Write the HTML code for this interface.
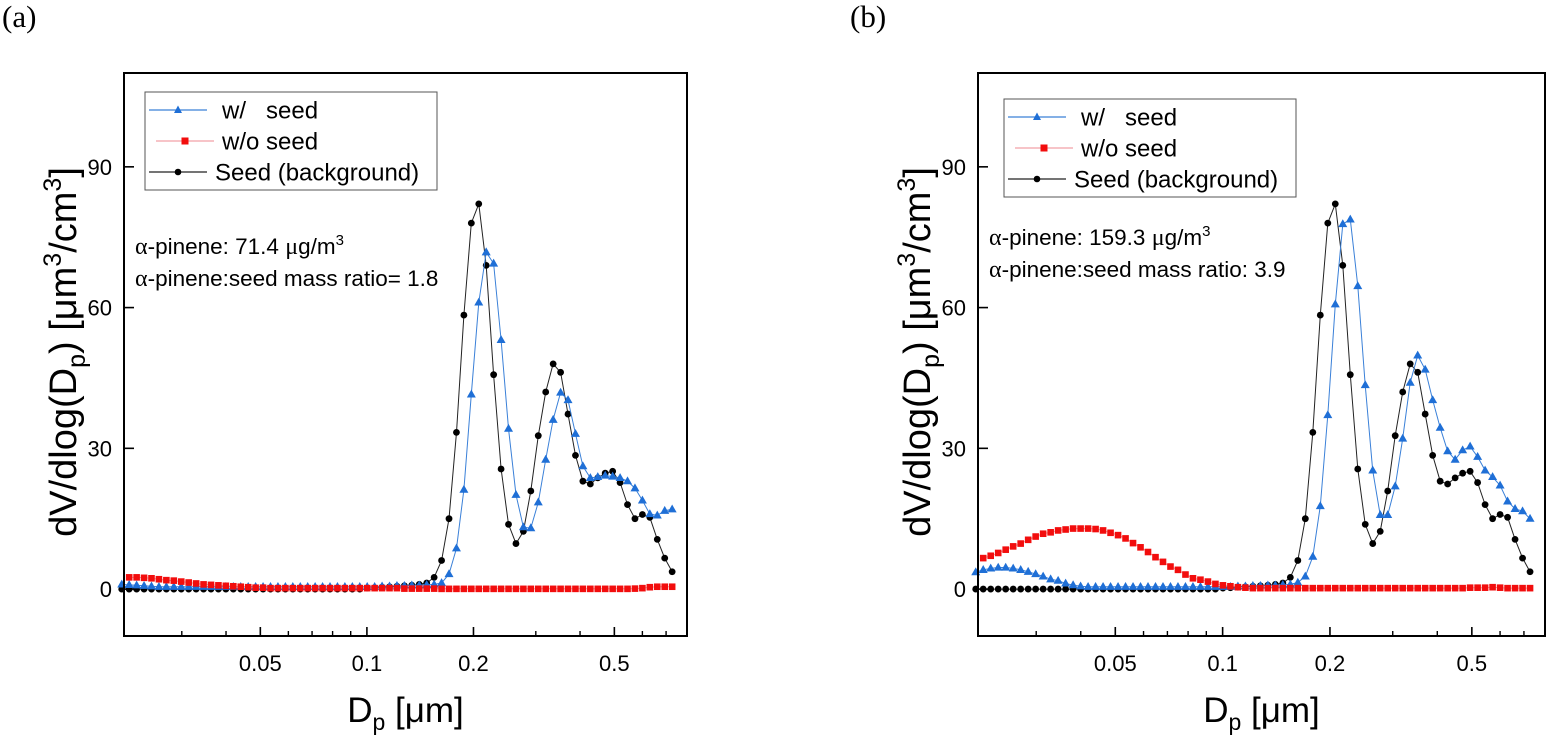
<!DOCTYPE html>
<html><head><meta charset="utf-8">
<style>
html,body{margin:0;padding:0;background:#fff;}
svg{display:block;font-family:"Liberation Sans",sans-serif;}
</style></head>
<body>
<svg id="chart" width="1548" height="737" viewBox="0 0 1548 737" xmlns="http://www.w3.org/2000/svg">
<text x="2" y="27" font-family="Liberation Serif" font-size="31">(a)</text>
<text x="850" y="27" font-family="Liberation Serif" font-size="31">(b)</text>
</svg>
<script>
// ---- data ----
const nPoints = 75;
const dStart = 0.0203;           // first diameter (um)
const logStep = 0.02101;         // log10 spacing between size bins
const xTicksMajor = [0.05, 0.1, 0.2, 0.5];
const xTickLabels = ["0.05", "0.1", "0.2", "0.5"];
const xTicksMinor = [0.03,0.04,0.06,0.07,0.08,0.09,0.3,0.4,0.6,0.7];
const yTicks = [0, 30, 60, 90];
const yTickLabels = ["0", "30", "60", "90"];

const seedA = [0,0,0,0,0,0,0,0,0,0, 0,0,0,0,0,0,0,0,0,0, 0,0,0,0,0,0,0,0,0,0, 0,0,0,0.2,0.3,0.4,0.5,0.6,0.7,0.8, 1.0,1.3,2.5,6.1,15,33.4,58.4,78,82.1,69,
 45.7,25.6,13.8,9.7,12.3,20.9,32.7,42,48,46.2, 37.3,28.5,23,22.4,23.7,24.7,25.1,22.7,18,15, 15.9,15.3,10.6,6.6,3.7];
const withSeedA = [1.0,0.9,0.8,0.7,0.6,0.5,0.5,0.5,0.5,0.5, 0.5,0.5,0.5,0.5,0.5,0.5,0.5,0.5,0.5,0.5, 0.5,0.5,0.5,0.5,0.5,0.5,0.5,0.5,0.5,0.5, 0.5,0.5,0.5,0.5,0.5,0.6,0.6,0.7,0.7,0.8, 0.8,0.9,1.0,1.3,3.2,8.7,21.2,41.5,61.1,71.8,
 69.4,53.1,34.2,20.1,13.2,13,18.5,27.6,36.1,41.9, 40.3,33.1,26.2,23.7,23.9,24.2,24,23.7,23,21.5, 18.9,16,15.7,16.7,17];
const noSeedA = [null,2.5,2.5,2.4,2.3,2.1,1.9,1.8,1.6,1.4, 1.2,1.0,0.9,0.8,0.7,0.6,0.5,0.4,0.3,0.3, 0.2,0.2,0.2,0.2,0.2,0.2,0.2,0.2,0.2,0.2, 0.2,0.2,0.2,0.2,0.2,0.2,0.2,0.2,0.1,0.1, 0.1,0.1,0.1,0.05,0.05,0.05,0.05,0.05,0.05,0.05,
 0.05,0.05,0.05,0.05,0.05,0.05,0.05,0.05,0.05,0.05, 0.05,0.05,0.05,0.05,0.05,0.05,0.05,0.05,0.05,0.1, 0.2,0.4,0.5,0.5,0.5];

const seedB = seedA.slice();
const withSeedB = [3.6,4.1,4.4,4.6,4.6,4.4,4.1,3.7,3.2,2.7, 2.1,1.8,1.2,0.85,0.6,0.5,0.5,0.5,0.5,0.5, 0.5,0.5,0.5,0.5,0.5,0.5,0.5,0.5,0.5,0.5, 0.5,0.5,0.5,0.5,0.5,0.6,0.6,0.7,0.7,0.8, 0.8,0.9,1.0,1.4,2.7,6.9,17.7,37.1,60.7,77.8,
 78.8,64.6,43.5,25.3,15.8,15.8,21.9,32.1,44,49.8, 46.8,40.3,34.4,29.4,27.6,29.6,30.4,28.2,25.3,23.9, 22.1,18.7,17.1,16.6,15];
const noSeedB = [null,6.6,7.1,7.7,8.4,9.1,9.7,10.5,11.2,11.8, 12.1,12.5,12.7,12.9,12.9,12.9,12.8,12.5,12,11.5, 10.8,9.8,8.9,7.9,6.8,5.8,4.8,4.1,3.1,2.3, 2.0,1.6,1.1,0.8,0.6,0.4,0.3,0.2,0.2,0.2, 0.2,0.2,0.2,0.2,0.2,0.2,0.2,0.2,0.2,0.2,
 0.2,0.2,0.2,0.2,0.2,0.2,0.2,0.2,0.2,0.2, 0.2,0.2,0.2,0.2,0.2,0.2,0.3,0.3,0.3,0.4, 0.3,0.2,0.2,0.2,0.2];

const NS = "http://www.w3.org/2000/svg";
const svg = document.getElementById("chart");
const diam = [];
for (let i = 0; i < nPoints; i++) diam.push(dStart * Math.pow(10, i * logStep));

function mk(tag, attrs, parent) {
  const e = document.createElementNS(NS, tag);
  for (const k in attrs) e.setAttribute(k, attrs[k]);
  (parent || svg).appendChild(e);
  return e;
}

function panel(cfg) {
  const g = mk("g", {});
  
  
  const L = cfg.left, R = cfg.right, T = 73, B = 636;
  const xMin = Math.log10(0.0206), xMax = Math.log10(0.802);
  const yMin = -10, yMax = 110;
  const xs = d => L + (Math.log10(d) - xMin) / (xMax - xMin) * (R - L);
  const ys = v => B - (v - yMin) / (yMax - yMin) * (B - T);

  const series = [
    {vals: cfg.noSeed, color: "#f20d0d", line: "#f4a0a0", mark: "square", nm: "wo-seed"},
    {vals: cfg.withSeed, color: "#1f6fd6", line: "#3a80d8", mark: "tri", nm: "w-seed"},
    {vals: cfg.seed, color: "#000", line: "#222", mark: "circle", nm: "seed-background"}
  ];
  const order = [2, 1, 0];
  order.forEach(si => {
    const s = series[si];
    const sg = mk("g", {}, g);
    
    
    let d = "";
    s.vals.forEach((v, i) => { if (v === null) return; d += (d ? "L" : "M") + xs(diam[i]).toFixed(1) + "," + ys(v).toFixed(1); });
    const p = mk("path", {d: d, fill: "none", stroke: s.line, "stroke-width": 1}, sg);
    
    
    s.vals.forEach((v, i) => {
      if (v === null) return;
      const x = xs(diam[i]), y = ys(v);
      let m;
      if (s.mark === "square") m = mk("rect", {x: x - 3.3, y: y - 3.3, width: 6.6, height: 6.6, fill: s.color}, sg);
      else if (s.mark === "tri") m = mk("polygon", {points: `${x},${y-4.8} ${x-4.5},${y+3.1} ${x+4.5},${y+3.1}`, fill: s.color}, sg);
      else m = mk("circle", {cx: x, cy: y, r: 3.4, fill: s.color}, sg);
      
      
    });
  });

  const fr = mk("rect", {x: L, y: T, width: R - L, height: B - T, fill: "none", stroke: "#000", "stroke-width": 2}, g);
  
  

  xTicksMajor.forEach((t, i) => {
    const x = xs(t);
    const tk = mk("line", {x1: x, x2: x, y1: B, y2: B - 9, stroke: "#000", "stroke-width": 1.6}, g);
    
    
    const tl = mk("text", {x: x, y: 671, "font-size": 22, "text-anchor": "middle"}, g);
    tl.textContent = xTickLabels[i];
    
    
  });
  xTicksMinor.forEach(t => {
    const x = xs(t);
    const tk = mk("line", {x1: x, x2: x, y1: B, y2: B - 5, stroke: "#000", "stroke-width": 1.4}, g);
    
    
  });
  yTicks.forEach((t, i) => {
    const y = ys(t);
    const tk = mk("line", {x1: L, x2: L + 10, y1: y, y2: y, stroke: "#000", "stroke-width": 1.6}, g);
    
    
    const tl = mk("text", {x: L - 12, y: y + 8, "font-size": 22, "text-anchor": "end"}, g);
    tl.textContent = yTickLabels[i];
    
    
  });

  const xt = mk("text", {x: (L + R) / 2, y: 722, "font-size": 35, "text-anchor": "middle"}, g);
  xt.innerHTML = 'D<tspan font-size="23" dy="8">p</tspan><tspan dy="-8"> [μm]</tspan>';
  
  
  const yt = mk("text", {x: 0, y: 0, "font-size": 38, "text-anchor": "middle", transform: `translate(${L - 48},352) rotate(-90)`}, g);
  yt.innerHTML = 'dV/dlog(D<tspan font-size="25" dy="9">p</tspan><tspan dy="-9">) [μm</tspan><tspan font-size="25" dy="-15">3</tspan><tspan dy="15">/cm</tspan><tspan font-size="25" dy="-15">3</tspan><tspan dy="15">]</tspan>';
  
  

  const lg = mk("g", {}, g);
  
  
  const lb = mk("rect", {x: cfg.lx, y: cfg.ly, width: 292, height: 98, fill: "#fff", stroke: "#555", "stroke-width": 1}, lg);
  
  
  const entries = [
    {t: "w/\u00a0\u00a0\u00a0seed", s: series[1], dx: 77},
    {t: "w/o seed", s: series[0], dx: 77},
    {t: "Seed (background)", s: series[2], dx: 70}
  ];
  entries.forEach((e, k) => {
    const y = cfg.ly + 18 + k * 31;
    const x0 = cfg.lx + 4, x1 = cfg.lx + 62, xm = (x0 + x1) / 2;
    const eg = mk("g", {}, lg);
    
    
    mk("line", {x1: x0 + (k === 1 ? 7 : 0), x2: x1 + (k === 1 ? 7 : 0), y1: y, y2: y, stroke: k === 1 ? "#f2a0a8" : e.s.line, "stroke-width": 1.2}, eg);
    const mx = xm + (k === 1 ? 7 : 0);
    if (e.s.mark === "square") mk("rect", {x: mx - 3.5, y: y - 3.5, width: 7, height: 7, fill: e.s.color}, eg);
    else if (e.s.mark === "tri") mk("polygon", {points: `${mx},${y-4.5} ${mx-4},${y+3} ${mx+4},${y+3}`, fill: e.s.color}, eg);
    else mk("circle", {cx: mx, cy: y, r: 3.3, fill: "#000"}, eg);
    const tx = mk("text", {x: cfg.lx + e.dx, y: y + 8.5, "font-size": 24}, eg);
    tx.textContent = e.t;
  });

  const a1 = mk("text", {x: L + 11, y: cfg.ay, "font-size": 22.5}, g);
  a1.innerHTML = '<tspan font-family="Liberation Serif" font-size="24">α</tspan>-pinene: ' + cfg.conc + ' <tspan font-family="Liberation Serif" font-size="24">μ</tspan>g/m<tspan font-size="15" dy="-9">3</tspan>';
  
  
  const a2 = mk("text", {x: L + 11, y: cfg.ay + 32, "font-size": 22.5}, g);
  a2.innerHTML = '<tspan font-family="Liberation Serif" font-size="24">α</tspan>-pinene:seed mass ratio' + cfg.ratio;
  
  
}

panel({name: "panel-a", left: 124, right: 687, seed: seedA, withSeed: withSeedA, noSeed: noSeedA,
       lx: 145, ly: 92, ay: 254, conc: "71.4", ratio: "= 1.8"});
panel({name: "panel-b", left: 978, right: 1545, seed: seedB, withSeed: withSeedB, noSeed: noSeedB,
       lx: 1004, ly: 99, ay: 245, conc: "159.3", ratio: ": 3.9"});
</script>
</body></html>
